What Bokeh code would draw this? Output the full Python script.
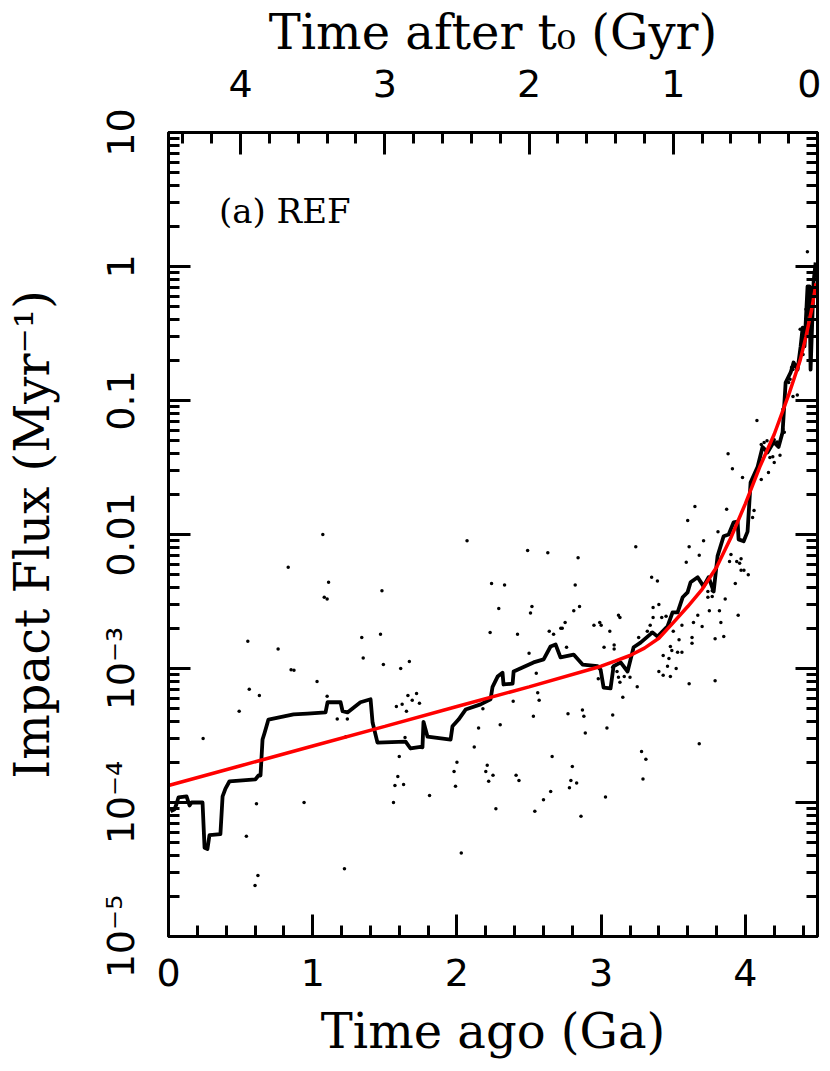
from bokeh.plotting import figure
from bokeh.models import Range1d, LinearAxis, LogAxis, FixedTicker, Label
from bokeh.embed import file_html
from bokeh.resources import INLINE

# ---------------- data ----------------
# running impact flux (black curve)
line_x = [0.014, 0.042, 0.055, 0.069, 0.125, 0.146, 0.16, 0.236, 0.25, 0.27,
          0.284, 0.36, 0.375, 0.395, 0.423, 0.603, 0.624, 0.638, 0.652, 0.666,
          0.693, 0.867, 0.964, 1.089, 1.103, 1.193, 1.207, 1.241, 1.331, 1.401,
          1.415, 1.449, 1.644, 1.678, 1.748, 1.761, 1.768, 1.796, 1.956, 1.969,
          2.011, 2.06, 2.164, 2.233, 2.247, 2.282, 2.316, 2.323, 2.386, 2.393,
          2.531, 2.601, 2.649, 2.684, 2.718, 2.809, 2.871, 2.975, 2.996, 3.017,
          3.065, 3.086, 3.135, 3.183, 3.225, 3.273, 3.356, 3.391, 3.46, 3.495,
          3.53, 3.565, 3.599, 3.62, 3.669, 3.71, 3.745, 3.78, 3.807, 3.849,
          3.884, 3.918, 3.946, 3.953, 3.988, 4.015, 4.036, 4.085, 4.119, 4.154,
          4.196, 4.23, 4.258, 4.279, 4.314, 4.334, 4.362, 4.383, 4.397, 4.41,
          4.431, 4.445, 4.452, 4.473, 4.487]
line_y = [8.6e-5, 8.9e-5, 9.7e-5, 1.09e-4, 1.11e-4, 9.5e-5, 1.0e-4, 1.0e-4, 4.6e-5, 4.5e-5,
          5.7e-5, 5.8e-5, 1.11e-4, 1.27e-4, 1.44e-4, 1.49e-4, 1.59e-4, 1.59e-4, 2.95e-4, 3.3e-4,
          4.16e-4, 4.54e-4, 4.6e-4, 4.7e-4, 5.6e-4, 5.6e-4, 4.8e-4, 4.7e-4, 5.6e-4, 5.9e-4,
          3.95e-4, 2.8e-4, 2.85e-4, 2.53e-4, 2.6e-4, 2.58e-4, 4.0e-4, 3.1e-4, 2.95e-4, 3.7e-4,
          4.16e-4, 4.94e-4, 5.4e-4, 5.9e-4, 7.3e-4, 8.7e-4, 9.3e-4, 7.6e-4, 7.7e-4, 9.5e-4,
          1.11e-3, 1.17e-3, 1.46e-3, 1.51e-3, 1.21e-3, 1.27e-3, 1.07e-3, 1.04e-3, 9.8e-4, 7.2e-4,
          7.1e-4, 1.04e-3, 1.11e-3, 9.5e-4, 1.44e-3, 1.56e-3, 1.86e-3, 1.73e-3, 2.06e-3, 2.62e-3,
          2.62e-3, 3.4e-3, 3.7e-3, 4.4e-3, 4.8e-3, 4.1e-3, 4.8e-3, 3.76e-3, 6.9e-3, 9.7e-3,
          1.0e-2, 1.23e-2, 1.25e-2, 9.2e-3, 8.9e-3, 1.05e-2, 2.44e-2, 3.2e-2, 4.5e-2, 4.1e-2,
          4.9e-2, 4.5e-2, 5.8e-2, 0.136, 0.162, 0.192, 0.17, 0.253, 0.35, 0.253,
          0.71, 0.71, 0.17, 0.77, 1.07]

# fitted flux (red curve)
fit_x = [0.0, 0.5, 1.0, 1.5, 2.0, 2.5, 3.0, 3.1, 3.2, 3.3, 3.4, 3.5, 3.6, 3.7,
         3.8, 3.9, 4.0, 4.1, 4.2, 4.3, 4.38, 4.42, 4.46, 4.49]
fit_y = [1.34e-4, 1.88e-4, 2.64e-4, 3.7e-4, 5.2e-4, 7.3e-4, 1.04e-3, 1.14e-3, 1.25e-3, 1.42e-3,
         1.68e-3, 2.2e-3, 2.9e-3, 3.9e-3, 5.7e-3, 9.5e-3, 1.7e-2, 3.2e-2, 5.6e-2, 0.11,
         0.2, 0.3, 0.48, 0.75]

# individual impact-rate samples (dots)
dot_x = [1.07, 0.83, 1.11, 1.08, 1.10, 1.48, 2.07, 2.24, 2.33, 2.29,
         2.49, 2.63, 2.84, 2.82, 2.52, 2.51, 2.81, 2.85, 2.75, 2.73,
         2.95, 2.99, 3.12, 3.13, 3.24, 3.35, 3.39, 3.36, 3.40, 3.36,
         3.34, 0.55, 0.76, 1.34, 1.35, 1.47, 1.49, 0.85, 0.87, 1.61,
         1.67, 1.03, 0.56, 0.63, 1.10, 0.49, 1.58, 1.62, 1.66, 1.69,
         1.65, 1.72, 1.74, 1.17, 1.24, 0.24, 1.23, 1.64, 1.60, 1.59,
         1.57, 1.63, 1.56, 0.61, 0.94, 0.54, 1.22, 0.62, 0.60, 2.23,
         2.42, 2.64, 2.67, 2.72, 3.06, 3.02, 3.09, 3.09, 2.76, 2.50,
         3.26, 2.55, 3.11, 3.12, 3.16, 3.20, 2.98, 3.13, 3.25, 2.56,
         2.57, 2.39, 3.15, 2.18, 2.87, 2.77, 2.88, 2.53, 3.08, 2.30,
         2.15, 3.04, 2.89, 2.12, 2.66, 3.28, 3.31, 2.00, 2.21, 2.20,
         2.25, 2.80, 1.98, 2.41, 2.43, 2.79, 2.83, 3.29, 2.22, 1.99,
         2.78, 2.65, 1.81, 3.03, 2.60, 2.27, 2.54, 2.86, 2.03, 3.63,
         3.79, 3.85, 3.63, 3.43, 3.47, 3.49, 3.53, 3.56, 3.54, 3.08,
         3.40, 3.43, 3.46, 3.48, 3.52, 3.61, 3.79, 3.68, 3.48, 3.60,
         3.81, 3.71, 3.61, 3.68, 3.59, 3.90, 3.89, 3.94, 3.96, 3.97,
         3.97, 3.99, 4.02, 3.93, 3.74, 3.74, 3.77, 3.77, 3.86, 3.75,
         3.82, 3.42, 3.45, 3.67, 3.95, 3.64, 3.56, 3.70, 3.83, 3.32,
         3.35, 3.50, 4.08, 3.88, 3.91, 3.98, 4.11, 4.16, 4.20, 4.19,
         4.24, 4.13, 4.15, 4.11, 4.20, 4.22, 4.27, 4.26, 4.26, 3.65,
         3.87, 4.06, 4.05, 4.30, 4.31, 4.33, 4.32, 4.33, 4.43, 4.38,
         4.42, 4.47, 4.40, 4.36, 3.00, 4.17]
dot_y = [1.0e-2, 5.7e-3, 4.4e-3, 3.4e-3, 3.3e-3, 3.8e-3, 9.0e-3, 4.3e-3, 4.2e-3, 2.8e-3,
         7.6e-3, 7.3e-3, 6.7e-3, 4.2e-3, 2.9e-3, 2.6e-3, 2.7e-3, 2.9e-3, 2.2e-3, 2.0e-3,
         2.1e-3, 2.2e-3, 2.5e-3, 2.4e-3, 8.1e-3, 4.8e-3, 4.5e-3, 2.85e-3, 3.0e-3, 2.4e-3,
         2.1e-3, 1.6e-3, 1.4e-3, 1.7e-3, 1.2e-3, 1.8e-3, 1.07e-3, 9.8e-4, 9.7e-4, 1.0e-3,
         1.13e-3, 8.0e-4, 7.0e-4, 6.3e-4, 6.2e-4, 4.8e-4, 5.2e-4, 5.4e-4, 6.3e-4, 5.8e-4,
         4.8e-4, 6.5e-4, 5.5e-4, 4.2e-4, 4.2e-4, 3.0e-4, 3.1e-4, 3.05e-4, 2.2e-4, 1.56e-4,
         1.34e-4, 1.36e-4, 1.0e-4, 9.8e-5, 1.0e-4, 5.6e-5, 3.2e-5, 2.85e-5, 2.4e-5, 1.86e-3,
         1.8e-3, 1.9e-3, 1.8e-3, 2.0e-3, 1.9e-3, 1.44e-3, 1.5e-3, 1.4e-3, 1.44e-3, 1.3e-3,
         1.7e-3, 9.2e-4, 9.5e-4, 8.6e-4, 8.7e-4, 8.6e-4, 8.4e-4, 7.9e-4, 7.3e-4, 6.6e-4,
         5.8e-4, 5.7e-4, 6.1e-4, 5.0e-4, 4.9e-4, 4.6e-4, 4.4e-4, 4.4e-4, 4.5e-4, 3.8e-4,
         3.6e-4, 3.6e-4, 3.3e-4, 2.6e-4, 2.2e-4, 2.4e-4, 2.1e-4, 2.0e-4, 1.9e-4, 1.7e-4,
         1.6e-4, 1.86e-4, 1.7e-4, 1.6e-4, 1.46e-4, 1.46e-4, 1.4e-4, 1.5e-4, 1.44e-4, 1.32e-4,
         1.29e-4, 1.21e-4, 1.13e-4, 1.1e-4, 1.05e-4, 9.0e-5, 8.6e-5, 7.9e-5, 4.2e-5, 1.7e-3,
         1.67e-3, 1.73e-3, 1.54e-3, 1.25e-3, 1.19e-3, 1.36e-3, 1.32e-3, 1.32e-3, 1.64e-3, 1.02e-3,
         9.5e-4, 8.9e-4, 1.04e-3, 8.7e-4, 1.0e-3, 7.7e-4, 8.1e-4, 2.75e-4, 1.46e-3, 1.27e-2,
         1.05e-2, 9.0e-3, 8.1e-3, 7.0e-3, 6.2e-3, 7.1e-3, 6.3e-3, 6.3e-3, 6.1e-3, 6.6e-3,
         5.4e-3, 5.4e-3, 5.0e-3, 4.3e-3, 3.76e-3, 3.4e-3, 3.45e-3, 3.8e-3, 3.3e-3, 2.7e-3,
         2.7e-3, 2.4e-3, 2.45e-3, 2.5e-3, 2.5e-3, 2.2e-3, 2.1e-3, 2.06e-3, 2.2e-3, 1.9e-3,
         1.86e-3, 1.9e-3, 0.071, 0.040, 0.031, 0.0266, 0.0257, 0.029, 0.0345, 0.038,
         0.039, 0.0486, 0.050, 0.047, 0.051, 0.049, 0.058, 0.061, 0.086, 0.0162,
         0.0154, 0.0151, 0.0134, 0.136, 0.144, 0.107, 0.176, 0.17, 1.29, 0.34,
         0.48, 0.68, 0.22, 0.11, 2.1e-3, 0.0376]

# axes / ticks
x_ticks = [0, 1, 2, 3, 4]
x_minor = [0.2, 0.4, 0.6, 0.8, 1.2, 1.4, 1.6, 1.8, 2.2, 2.4, 2.6, 2.8,
           3.2, 3.4, 3.6, 3.8, 4.2, 4.4]
top_ticks = [0, 1, 2, 3, 4]
top_minor = [0.2, 0.4, 0.6, 0.8, 1.2, 1.4, 1.6, 1.8, 2.2, 2.4, 2.6, 2.8,
             3.2, 3.4, 3.6, 3.8, 4.2, 4.4]
y_ticks = [1e-5, 1e-4, 1e-3, 1e-2, 1e-1, 1.0, 10.0]
y_tick_labels = ["10\u207b\u2075", "10\u207b\u2074", "10\u207b\u00b3", "0.01", "0.1", "1", "10"]
y_minor = [m * d for d in [1e-5, 1e-4, 1e-3, 1e-2, 1e-1, 1.0] for m in range(2, 10)]

# ---------------- figure ----------------
p = figure(frame_width=649, frame_height=804,
           x_range=Range1d(0, 4.5), y_range=Range1d(1e-5, 10),
           y_axis_type="log", output_backend="svg", toolbar_location=None,
           min_border_left=160, min_border_right=4, min_border_top=10,
           min_border_bottom=10)
p.extra_x_ranges = {"top": Range1d(4.5, 0)}
p.xgrid.visible = False
p.ygrid.visible = False
p.outline_line_color = "black"
p.outline_line_width = 3
p.background_fill_color = "white"
p.border_fill_color = "white"

bottom = p.below[0]
left = p.left[0]
top_axis = LinearAxis(x_range_name="top")
right_axis = LogAxis()
p.add_layout(top_axis, "above")
p.add_layout(right_axis, "right")


def style(ax):
    ax.axis_line_width = 3
    ax.axis_line_color = "black"
    ax.major_tick_line_width = 3
    ax.minor_tick_line_width = 3
    ax.major_tick_line_color = "black"
    ax.minor_tick_line_color = "black"
    ax.major_tick_in = 22
    ax.major_tick_out = 0
    ax.minor_tick_in = 11
    ax.minor_tick_out = 0
    ax.major_label_text_font = "DejaVu Sans"
    ax.major_label_text_font_size = "38px"
    ax.major_label_text_color = "black"
    ax.axis_label_text_font = "DejaVu Serif"
    ax.axis_label_text_font_size = "48px"
    ax.axis_label_text_font_style = "normal"
    ax.axis_label_text_color = "black"


for ax in (bottom, left, top_axis, right_axis):
    style(ax)

bottom.ticker = FixedTicker(ticks=x_ticks, minor_ticks=x_minor)
bottom.axis_label = "Time ago (Ga)"
bottom.major_label_standoff = 22
bottom.axis_label_standoff = 14

top_axis.ticker = FixedTicker(ticks=top_ticks, minor_ticks=top_minor)
top_axis.axis_label = "Time after t\u2080 (Gyr)"
top_axis.major_label_standoff = 36
top_axis.axis_label_standoff = 7

left.ticker = FixedTicker(ticks=y_ticks, minor_ticks=y_minor)
left.major_label_overrides = {t: s for t, s in zip(y_ticks, y_tick_labels)}
left.major_label_orientation = "vertical"
left.major_label_standoff = 26
left.axis_label = "Impact Flux (Myr\u207b\u00b9)"
left.axis_label_standoff = 36

right_axis.ticker = FixedTicker(ticks=y_ticks, minor_ticks=y_minor)
right_axis.major_label_overrides = {t: "" for t in y_ticks}
right_axis.major_label_standoff = 0

# ---------------- glyphs ----------------
p.scatter(dot_x, dot_y, size=3.5, color="black", line_color=None)
p.line(line_x, line_y, line_width=3.8, color="black", line_join="round")
p.line(fit_x, fit_y, line_width=3.5, color="#ff0000")

p.add_layout(Label(x=0.35, y=2.6, text="(a) REF", text_font="DejaVu Serif",
                   text_font_size="34px", text_color="black",
                   text_baseline="alphabetic", text_align="left"))

open("out.html", "w").write(file_html(p, INLINE))
